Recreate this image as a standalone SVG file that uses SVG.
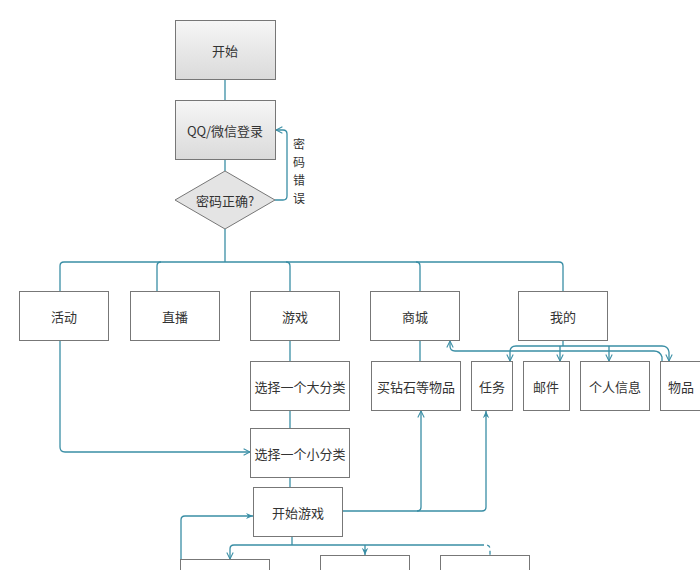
<svg xmlns="http://www.w3.org/2000/svg" width="700" height="570" viewBox="0 0 700 570">
<style>
.box{fill:#fff;stroke:#777;stroke-width:1}
.gbox{fill:url(#g);stroke:#777;stroke-width:1}
.t{font-family:"Noto Sans CJK SC","Liberation Sans",sans-serif;font-size:13px;fill:#333;text-anchor:middle;dominant-baseline:central}
.v{font-size:12px}
.c{fill:none;stroke:#3a8ea5;stroke-width:1.3}
.o{marker-end:url(#ao)}
.f{marker-end:url(#af)}
</style>
<defs>
<linearGradient id="g" x1="0" y1="0" x2="0" y2="1"><stop offset="0" stop-color="#f6f6f6"/><stop offset="1" stop-color="#dadada"/></linearGradient>
<marker id="ao" viewBox="0 0 10 10" refX="9" refY="5" markerWidth="8" markerHeight="8" markerUnits="userSpaceOnUse" orient="auto"><path d="M1,1 L9,5 L1,9" fill="none" stroke="#3a8ea5" stroke-width="1.3"/></marker>
<marker id="af" viewBox="0 0 10 10" refX="9" refY="5" markerWidth="8" markerHeight="8" markerUnits="userSpaceOnUse" orient="auto"><path d="M0,1 L9,5 L0,9 L3,5 Z" fill="#3a8ea5"/></marker>
</defs>
<g id="connectors">
<path class="c" d="M225,79 V100"/>
<path class="c" d="M225,159 V171"/>
<path class="c o" d="M275,200 H283 Q287,200 287,196 V134 Q287,130 283,130 H276"/>
<path class="c" d="M225,229 V262"/>
<path class="c" d="M60,291 V266 Q60,262 64,262 H559 Q563,262 563,266 V291"/>
<path class="c" d="M157,291 V266 Q157,262 161,262"/>
<path class="c" d="M290,291 V266 Q290,262 286,262"/>
<path class="c" d="M420,291 V266 Q420,262 416,262"/>
<path class="c" d="M290,340 V361"/>
<path class="c" d="M290,410 V428"/>
<path class="c" d="M290,477 V487"/>
<path class="c" d="M420,340 V361"/>
<path class="c o" d="M60,340 V447 Q60,452 65,452 H250"/>
<path class="c o" d="M342,511 H417 Q421,511 421,507 V411"/>
<path class="c f" d="M417,511 H482 Q486,511 486,507 V411"/>
<path class="c f" d="M181,559 V520 Q181,516 185,516 H253"/>
<path class="c" d="M292,536 V545"/>
<path class="c o" d="M480,545 H234 Q230,545 230,549 V559"/>
<path class="c f" d="M365,545 V555"/>
<path class="c" d="M480,545 H486 Q490,545 490,549 V555" stroke-dasharray="4,3"/>
<path class="c" d="M563,340 V346"/>
<path class="c o" d="M516,346 H662 Q668,346 669,352 V361"/>
<path class="c o" d="M516,346 Q510,346 510,352 V361"/>
<path class="c o" d="M560,346 V361"/>
<path class="c o" d="M609,346 V361"/>
<path class="c o" d="M662,361 V357 Q660,351 654,351 H455 Q450,351 450,346 V341"/>
</g>
<g id="n-start"><rect class="gbox" x="175.5" y="20.5" width="100" height="59"/><text class="t" x="225" y="50">开始</text></g>
<g id="n-login"><rect class="gbox" x="175.5" y="100.5" width="100" height="59"/><text class="t" x="225" y="130">QQ/微信登录</text></g>
<g id="n-check"><polygon points="225,171 275,200 225,229 175,200" fill="#e4e4e4" stroke="#777"/><text class="t" x="225" y="200">密码正确?</text></g>
<g id="l-wrong"><text class="t v" x="299" y="143">密</text><text class="t v" x="299" y="161">码</text><text class="t v" x="299" y="179">错</text><text class="t v" x="299" y="197">误</text></g>
<g id="n-huodong"><rect class="box" x="19.5" y="291.5" width="89" height="49"/><text class="t" x="64" y="316">活动</text></g>
<g id="n-zhibo"><rect class="box" x="130.5" y="291.5" width="89" height="49"/><text class="t" x="175" y="316">直播</text></g>
<g id="n-youxi"><rect class="box" x="250.5" y="291.5" width="89" height="49"/><text class="t" x="295" y="316">游戏</text></g>
<g id="n-shangcheng"><rect class="box" x="370.5" y="291.5" width="89" height="49"/><text class="t" x="415" y="316">商城</text></g>
<g id="n-wode"><rect class="box" x="518.5" y="291.5" width="89" height="49"/><text class="t" x="563" y="316">我的</text></g>
<g id="n-dafenlei"><rect class="box" x="250.5" y="361.5" width="99" height="49"/><text class="t" x="300" y="386">选择一个大分类</text></g>
<g id="n-maizuanshi"><rect class="box" x="371.5" y="361.5" width="89" height="49"/><text class="t" x="416" y="386">买钻石等物品</text></g>
<g id="n-renwu"><rect class="box" x="471.5" y="361.5" width="41" height="49"/><text class="t" x="492" y="386">任务</text></g>
<g id="n-youjian"><rect class="box" x="523.5" y="361.5" width="46" height="49"/><text class="t" x="546" y="386">邮件</text></g>
<g id="n-geren"><rect class="box" x="580.5" y="361.5" width="69" height="49"/><text class="t" x="615" y="386">个人信息</text></g>
<g id="n-wupin"><rect class="box" x="660.5" y="361.5" width="40" height="49"/><text class="t" x="681" y="386">物品</text></g>
<g id="n-xiaofenlei"><rect class="box" x="250.5" y="428.5" width="99" height="49"/><text class="t" x="300" y="453">选择一个小分类</text></g>
<g id="n-kaishiyouxi"><rect class="box" x="253.5" y="487.5" width="89" height="49"/><text class="t" x="298" y="512">开始游戏</text></g>
<g id="n-b1"><rect class="box" x="180.5" y="559.5" width="89" height="30"/></g>
<g id="n-b2"><rect class="box" x="320.5" y="555.5" width="89" height="30"/></g>
<g id="n-b3"><rect class="box" x="440.5" y="555.5" width="89" height="30"/></g>
</svg>
